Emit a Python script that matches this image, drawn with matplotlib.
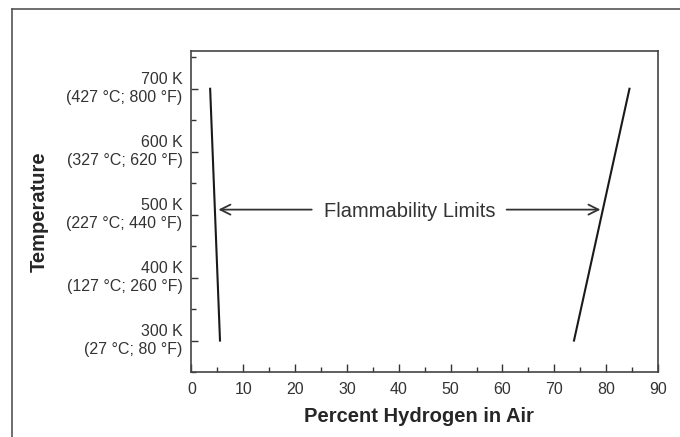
import matplotlib
matplotlib.use("Agg")
import matplotlib.pyplot as plt
from matplotlib.ticker import MultipleLocator
from matplotlib.lines import Line2D

plt.rcParams['font.family'] = ['Liberation Sans', 'DejaVu Sans']

# Data
temps = [300, 700]                 # K
lower_limit = [5.5, 3.6]           # % H2 at 300 K, 700 K
upper_limit = [73.8, 84.5]
ytick_vals = [300, 400, 500, 600, 700]
ytick_labels = ["300 K\n(27 °C; 80 °F)",
                "400 K\n(127 °C; 260 °F)",
                "500 K\n(227 °C; 440 °F)",
                "600 K\n(327 °C; 620 °F)",
                "700 K\n(427 °C; 800 °F)"]
xtick_vals = list(range(0, 91, 10))
arrow_T = 508
arrow_left = (5.2, 23.2)
arrow_right = (60.8, 78.9)
label_x = 42.1

fig = plt.figure(figsize=(6.8, 4.37), dpi=100)
ax = fig.add_axes([0.2816, 0.1487, 0.9676 - 0.2816, 0.8833 - 0.1487])

ax.plot(lower_limit, temps, color='#1a1a1a', lw=1.5)
ax.plot(upper_limit, temps, color='#1a1a1a', lw=1.5)

ax.set_xlim(0, 90)
ax.set_ylim(250, 760)
ax.set_xticks(xtick_vals)
ax.set_yticks(ytick_vals)
ax.set_yticklabels(ytick_labels, ha='right', multialignment='right', linespacing=1.25)
for lab in ax.get_yticklabels():
    lab.set_va('center')
ax.xaxis.set_minor_locator(MultipleLocator(5))
ax.yaxis.set_minor_locator(MultipleLocator(50))
ax.tick_params(axis='both', which='both', direction='in', colors='#333333',
               labelcolor='#333333', labelsize=11.5, width=1)
ax.tick_params(axis='x', which='major', length=6, pad=7)
ax.tick_params(axis='x', which='minor', length=3.5)
ax.tick_params(axis='y', which='major', length=5, pad=6.5)
ax.tick_params(axis='y', which='minor', length=3.5)
for s in ax.spines.values():
    s.set_color('#444444')
    s.set_linewidth(1.2)

ax.set_xlabel('Percent Hydrogen in Air', fontsize=14.5, fontweight='bold',
              color='#262626')
ax.set_ylabel('Temperature', fontsize=14.5, fontweight='bold', color='#262626')
axw = 658 - 191.5
axh = 372 - 51
ax.yaxis.set_label_coords((49 - 191.5) / axw, 0.5)
ax.xaxis.set_label_coords((419 - 191.5) / axw, -(407 - 372) / axh)

ap = dict(arrowstyle='->', color='#333333', lw=1.3, mutation_scale=18,
          shrinkA=0, shrinkB=0)
ax.annotate('', xy=(arrow_left[0], arrow_T), xytext=(arrow_left[1], arrow_T), arrowprops=ap)
ax.annotate('', xy=(arrow_right[1], arrow_T), xytext=(arrow_right[0], arrow_T), arrowprops=ap)
ax.text(label_x, arrow_T, 'Flammability Limits', fontsize=14.5, color='#333333',
        ha='center', va='center_baseline')

# outer border (cropped: left and top only)
fig.add_artist(Line2D([12 / 680, 12 / 680], [0, 1 - 9 / 437], color='#555555', lw=1.2))
fig.add_artist(Line2D([12 / 680, 1], [1 - 9 / 437, 1 - 9 / 437], color='#555555', lw=1.2))

fig.savefig('out.png', dpi=100)
